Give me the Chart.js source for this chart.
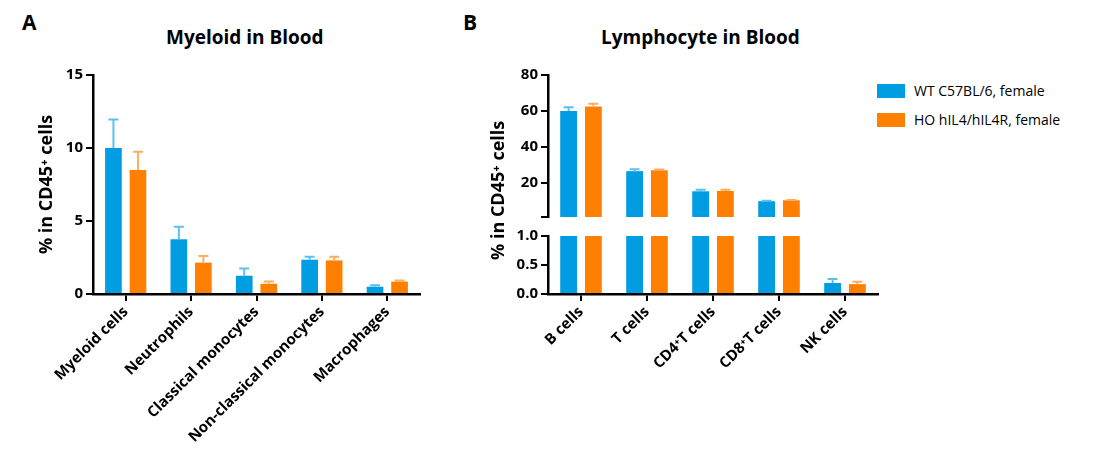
<!DOCTYPE html>
<html><head><meta charset="utf-8">
<script src="https://cdn.jsdelivr.net/npm/chart.js@4"></script>
<style>
body{margin:0;width:1095px;height:467px;background:#fff;position:relative;overflow:hidden;font-family:"Open Sans",sans-serif}
canvas{position:absolute}
.t{position:absolute;font-weight:bold;color:#000;white-space:nowrap}
.lg{position:absolute;display:flex;align-items:center;font-size:14px;color:#000}
.lg span{display:inline-block;width:28px;height:14px;margin-right:9px}
</style></head><body>
<div class="t" style="left:22px;top:8px;font-size:21px">A</div>
<div class="t" style="left:463px;top:8px;font-size:21px">B</div>
<div class="t" style="left:166px;top:24px;font-size:19px">Myeloid in Blood</div>
<div class="t" style="left:601px;top:24px;font-size:19px">Lymphocyte in Blood</div>
<div class="lg" style="left:877px;top:81px"><span style="background:#019de2"></span>WT C57BL/6, female</div>
<div class="lg" style="left:877px;top:110px"><span style="background:#ff8000"></span>HO hIL4/hIL4R, female</div>
<div style="position:absolute;left:0;top:0;width:440px;height:467px"><canvas id="ca"></canvas></div>
<div style="position:absolute;left:440px;top:0;width:445px;height:229px"><canvas id="cb1"></canvas></div>
<div style="position:absolute;left:440px;top:224px;width:445px;height:243px"><canvas id="cb2"></canvas></div>
<script>
const seriesNames = ["WT C57BL/6, female","HO hIL4/hIL4R, female"];
const myeloidCats = ["Myeloid cells","Neutrophils","Classical monocytes","Non-classical monocytes","Macrophages"];
const myeloidWT = [10.0,3.75,1.25,2.35,0.5];
const myeloidWTErr = [11.95,4.6,1.75,2.55,0.6];
const myeloidHO = [8.5,2.15,0.7,2.3,0.85];
const myeloidHOErr = [9.75,2.6,0.85,2.55,0.92];
const lymphCats = ["B cells","T cells","CD4\u207AT cells","CD8\u207AT cells","NK cells"];
const lymphWT = [60,26.5,15.3,9.8,0.19];
const lymphWTErr = [62,27.5,16.2,10.1,0.26];
const lymphHO = [62.5,27,15.5,10.3,0.17];
const lymphHOErr = [64,27.4,16.2,10.5,0.21];
const upperTicks = [1,20,40,60,80];
const lowerTicks = [0,0.5,1.0];

const BLUE='#019de2', ORANGE='#ff8000', BLUE_E='#5cbfee', ORANGE_E='#fbae5e';
const F='"Open Sans", sans-serif';
Chart.defaults.animation=false;
Chart.defaults.responsive=true;
Chart.defaults.maintainAspectRatio=false;
Chart.defaults.devicePixelRatio=1;

const errPlugin={id:'err',afterDatasetsDraw(ch){
  const c=ch.ctx, ys=ch.scales.y, a=ch.chartArea;
  ch.data.datasets.forEach((ds,i)=>{
    const m=ch.getDatasetMeta(i);
    m.data.forEach((b,j)=>{
      const v=ds.data[j], e=ds.err[j];
      if(v>ys.max||v<ys.min) return;
      const y0=ys.getPixelForValue(v), y1=ys.getPixelForValue(e);
      if(y1<a.top-2) return;
      c.save();c.strokeStyle=ds.errColor;c.lineWidth=2;
      c.beginPath();c.moveTo(b.x,y0);c.lineTo(b.x,y1);
      c.moveTo(b.x-5,y1);c.lineTo(b.x+5,y1);c.stroke();c.restore();
    });
  });
}};

function ds(cats,wt,wte,ho,hoe){return{labels:cats,datasets:[
 {label:seriesNames[0],data:wt,err:wte,errColor:BLUE_E,backgroundColor:BLUE,categoryPercentage:0.75,barPercentage:0.68},
 {label:seriesNames[1],data:ho,err:hoe,errColor:ORANGE_E,backgroundColor:ORANGE,categoryPercentage:0.75,barPercentage:0.68}]};}

function xScale(show){return{display:show?true:false,
  grid:{display:true,drawOnChartArea:false,color:'#000',lineWidth:2,tickLength:7,offset:false},
  border:{color:'#000',width:2.5},
  ticks:{color:'#000',font:{family:F,weight:'bold',size:15},maxRotation:45,minRotation:45,padding:2,autoSkip:false},
  afterFit(s){s.height=173;}};}
function yScale(min,max,tickVals,w,title,fmt,tickBlankBelow){return{min:min,max:max,
  afterBuildTicks(s){s.ticks=tickVals.map(v=>({value:v}));},
  grid:{display:true,drawOnChartArea:false,color:'#000',lineWidth:2,tickLength:7},
  border:{color:'#000',width:2.5},
  ticks:{color:'#000',font:{family:F,weight:'bold',size:15},padding:3,
    callback:(v)=>(tickBlankBelow!==undefined&&v<tickBlankBelow)?'':fmt(v)},
  title:{display:!!title,text:title,color:'#000',font:{family:F,weight:'bold',size:18},padding:{bottom:12}},
  afterFit(s){s.width=w;}};}

new Chart(document.getElementById('ca'),{type:'bar',data:ds(myeloidCats,myeloidWT,myeloidWTErr,myeloidHO,myeloidHOErr),
 options:{layout:{padding:{left:32,right:20,top:75,bottom:0}},plugins:{legend:{display:false},tooltip:{enabled:false}},
 scales:{x:xScale(true),y:yScale(0,15,[0,5,10,15],61,'% in CD45\u207A cells',v=>String(v))}},plugins:[errPlugin]});

new Chart(document.getElementById('cb1'),{type:'bar',data:ds(lymphCats,lymphWT,lymphWTErr,lymphHO,lymphHOErr),
 options:{layout:{padding:{left:0,right:7,top:75,bottom:3}},plugins:{legend:{display:false},tooltip:{enabled:false}},
 scales:{x:{display:false},y:yScale(1,80,upperTicks,108,'',v=>String(v),10)}},plugins:[errPlugin]});

new Chart(document.getElementById('cb2'),{type:'bar',data:ds(lymphCats,lymphWT,lymphWTErr,lymphHO,lymphHOErr),
 options:{layout:{padding:{left:0,right:7,top:10,bottom:0}},plugins:{legend:{display:false},tooltip:{enabled:false}},
 scales:{x:xScale(true),y:yScale(0,1,lowerTicks,108,'',v=>v.toFixed(1))}},plugins:[errPlugin]});
</script>
<div class="t" style="left:485px;top:260px;font-size:18px;transform:rotate(-90deg);transform-origin:left top">% in CD45⁺ cells</div>
</body></html>
